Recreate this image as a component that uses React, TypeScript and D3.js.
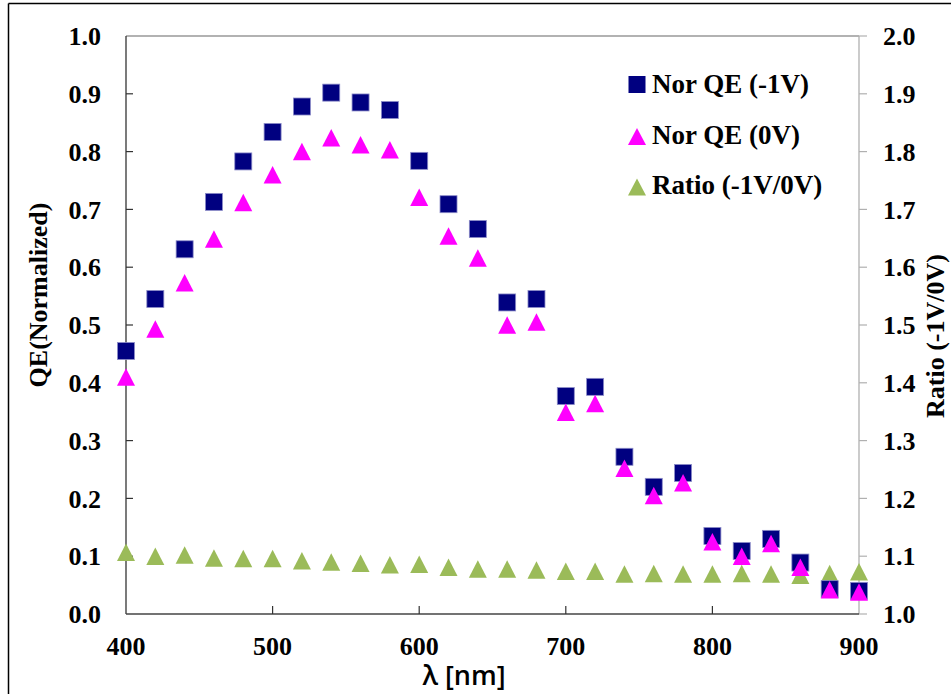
import React from "react";
import * as d3 from "d3";

const wavelengths = [400, 420, 440, 460, 480, 500, 520, 540, 560, 580, 600, 620, 640, 660, 680, 700, 720, 740, 760, 780, 800, 820, 840, 860, 880, 900];
const norQE1V = [0.455, 0.545, 0.631, 0.713, 0.783, 0.834, 0.878, 0.902, 0.885, 0.872, 0.784, 0.709, 0.666, 0.539, 0.545, 0.377, 0.393, 0.272, 0.220, 0.244, 0.135, 0.109, 0.130, 0.089, 0.043, 0.040];
const norQE0V = [0.410, 0.493, 0.573, 0.649, 0.712, 0.760, 0.800, 0.824, 0.812, 0.803, 0.721, 0.654, 0.616, 0.500, 0.505, 0.349, 0.364, 0.252, 0.205, 0.227, 0.125, 0.100, 0.122, 0.081, 0.042, 0.038];
const ratio = [1.107, 1.100, 1.102, 1.097, 1.096, 1.096, 1.092, 1.090, 1.088, 1.085, 1.086, 1.081, 1.078, 1.078, 1.076, 1.074, 1.074, 1.069, 1.070, 1.069, 1.069, 1.070, 1.069, 1.067, 1.070, 1.073];

const xTicks = [400, 500, 600, 700, 800, 900];
const yLeftTicks = [0, 0.1, 0.2, 0.3, 0.4, 0.5, 0.6, 0.7, 0.8, 0.9, 1.0];
const yRightTicks = [1.0, 1.1, 1.2, 1.3, 1.4, 1.5, 1.6, 1.7, 1.8, 1.9, 2.0];

const legendLabels = ["Nor QE (-1V)", "Nor QE (0V)", "Ratio (-1V/0V)"];
const colors = { sq: "#000080", mag: "#FF00FF", green: "#9BBB59" };

const W = 951, H = 694;
const L = 126, R = 859, T = 36, B = 614;

const serif = "'Liberation Serif', 'Times New Roman', serif";

function tri(cx: number, cy: number, w = 18, h = 17.5) {
  const p = d3.path();
  p.moveTo(cx - w / 2, cy + h / 2);
  p.lineTo(cx, cy - h / 2);
  p.lineTo(cx + w / 2, cy + h / 2);
  p.closePath();
  return p.toString();
}

export default function App() {
  const x = d3.scaleLinear().domain([400, 900]).range([L, R]);
  const yL = d3.scaleLinear().domain([0, 1]).range([B, T]);
  const yR = d3.scaleLinear().domain([1, 2]).range([B, T]);
  const sq = 17;

  return (
    <svg width={W} height={H} style={{ position: "absolute", left: 0, top: 0, background: "#fff" }}>
      <rect x={0} y={0} width={W} height={H} fill="#fff" />
      {/* outer frame */}
      <line x1={8.5} y1={3.5} x2={W} y2={3.5} stroke="#000" strokeWidth={1.5} />
      <line x1={8.5} y1={3.5} x2={8.5} y2={H} stroke="#000" strokeWidth={1.5} />

      {/* plot frame */}
      <line x1={L} y1={T} x2={R} y2={T} stroke="#999" strokeWidth={1.3} />
      <line x1={R} y1={T} x2={R} y2={B} stroke="#b0b0b0" strokeWidth={1.3} />
      <line x1={L} y1={T} x2={L} y2={B} stroke="#333" strokeWidth={1.3} />
      <line x1={L} y1={B} x2={R} y2={B} stroke="#444" strokeWidth={1.3} />

      {/* left ticks */}
      {yLeftTicks.map((t, i) => (
        <g key={"yl" + i}>
          {i > 0 && i < yLeftTicks.length - 1 && (
            <line x1={L} x2={L + 7} y1={yL(t)} y2={yL(t)} stroke="#333" strokeWidth={1.2} />
          )}
          <text x={L - 25} y={yL(t)} dy="0.35em" textAnchor="end" fontFamily={serif} fontWeight="bold" fontSize={26}>
            {d3.format(".1f")(t)}
          </text>
        </g>
      ))}
      {/* right ticks */}
      {yRightTicks.map((t, i) => (
        <g key={"yr" + i}>
          <line x1={R} x2={R + 8} y1={yR(t)} y2={yR(t)} stroke="#b0b0b0" strokeWidth={1.2} />
          <text x={R + 24} y={yR(t)} dy="0.35em" textAnchor="start" fontFamily={serif} fontWeight="bold" fontSize={26}>
            {d3.format(".1f")(t)}
          </text>
        </g>
      ))}
      {/* x ticks */}
      {xTicks.map((t, i) => (
        <g key={"x" + i}>
          {i > 0 && i < xTicks.length - 1 && (
            <line x1={x(t)} x2={x(t)} y1={B} y2={B - 8} stroke="#333" strokeWidth={1.2} />
          )}
          <text x={x(t)} y={655} textAnchor="middle" fontFamily={serif} fontWeight="bold" fontSize={26}>
            {t}
          </text>
        </g>
      ))}

      {/* axis titles */}
      <text transform={`translate(47,295) rotate(-90)`} textAnchor="middle" fontFamily={serif} fontWeight="bold" fontSize={26}>
        QE(Normalized)
      </text>
      <text transform={`translate(944,336) rotate(-90)`} textAnchor="middle" fontFamily={serif} fontWeight="bold" fontSize={26}>
        Ratio (-1V/0V)
      </text>
      <text x={464} y={685} textAnchor="middle" fontFamily="'Open Sans', sans-serif" fontWeight={600} fontSize={27}>
        λ [nm]
      </text>

      {/* ratio series */}
      {wavelengths.map((w, i) => (
        <path key={"r" + i} d={tri(x(w), yR(ratio[i]))} fill={colors.green} />
      ))}
      {/* Nor QE -1V */}
      {wavelengths.map((w, i) => (
        <rect key={"s" + i} x={x(w) - sq / 2} y={yL(norQE1V[i]) - sq / 2} width={sq} height={sq}
          fill={colors.sq} stroke="#8c8cc8" strokeWidth={0.8} />
      ))}
      {/* Nor QE 0V */}
      {wavelengths.map((w, i) => (
        <path key={"m" + i} d={tri(x(w), yL(norQE0V[i]))} fill={colors.mag} />
      ))}

      {/* legend */}
      <rect x={628.5} y={76} width={17} height={17} fill={colors.sq} />
      <path d={tri(637, 136.5, 18, 17)} fill={colors.mag} />
      <path d={tri(637, 187, 18, 17)} fill={colors.green} />
      {legendLabels.map((l, i) => (
        <text key={"l" + i} x={652} y={[93, 143.5, 194][i]} fontFamily={serif} fontWeight="bold" fontSize={27}>
          {l}
        </text>
      ))}
    </svg>
  );
}
